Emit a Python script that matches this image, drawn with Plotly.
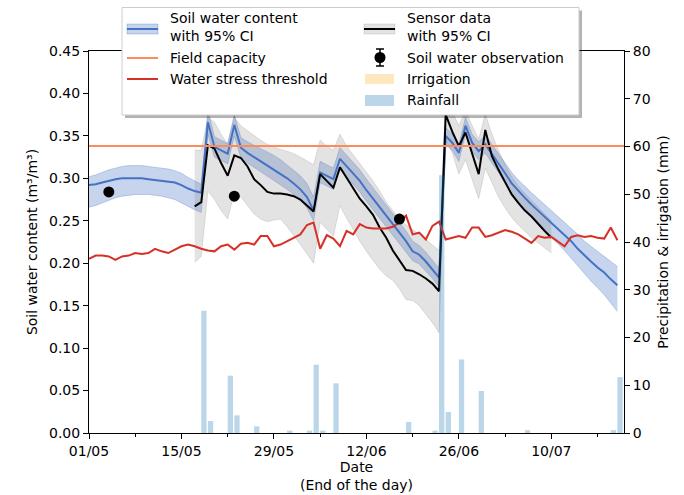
import pandas as pd
import plotly.graph_objects as go

# ---------------------------------------------------------------- data
x_start, x_end = "2021-05-01", "2021-07-21"
model_dates = pd.date_range("2021-05-01", periods=81, freq="D")
sensor_dates = pd.date_range("2021-05-17", periods=55, freq="D")

swc_mean = [0.292, 0.293, 0.295, 0.297, 0.299, 0.300, 0.300, 0.300, 0.300, 0.299,
            0.298, 0.297, 0.296, 0.295, 0.292, 0.288, 0.285, 0.283, 0.366, 0.337,
            0.333, 0.329, 0.363, 0.336, 0.330, 0.325, 0.320, 0.316, 0.311, 0.306,
            0.300, 0.294, 0.287, 0.278, 0.262, 0.307, 0.303, 0.299, 0.323, 0.314,
            0.305, 0.297, 0.286, 0.276, 0.266, 0.256, 0.246, 0.236, 0.226, 0.214,
            0.210, 0.202, 0.193, 0.183, 0.350, 0.342, 0.330, 0.362, 0.342, 0.332,
            0.340, 0.329, 0.318, 0.306, 0.294, 0.285, 0.277, 0.269, 0.262, 0.255,
            0.248, 0.241, 0.234, 0.226, 0.217, 0.209, 0.202, 0.195, 0.189, 0.181,
            0.174]
swc_low = [0.266, 0.268, 0.271, 0.274, 0.277, 0.279, 0.280, 0.281, 0.281, 0.281,
           0.280, 0.279, 0.277, 0.275, 0.271, 0.267, 0.263, 0.260, 0.352, 0.325,
           0.321, 0.317, 0.350, 0.324, 0.318, 0.313, 0.308, 0.303, 0.298, 0.293,
           0.287, 0.281, 0.274, 0.265, 0.250, 0.295, 0.291, 0.287, 0.310, 0.301,
           0.292, 0.284, 0.273, 0.263, 0.253, 0.244, 0.234, 0.224, 0.214, 0.203,
           0.199, 0.191, 0.182, 0.172, 0.340, 0.333, 0.320, 0.352, 0.332, 0.322,
           0.330, 0.318, 0.307, 0.294, 0.282, 0.272, 0.263, 0.254, 0.246, 0.238,
           0.231, 0.223, 0.215, 0.206, 0.196, 0.187, 0.179, 0.171, 0.163, 0.153,
           0.143]
swc_high = [0.302, 0.304, 0.307, 0.310, 0.312, 0.314, 0.315, 0.315, 0.315, 0.314,
            0.313, 0.312, 0.311, 0.309, 0.306, 0.301, 0.297, 0.293, 0.380, 0.349,
            0.345, 0.341, 0.375, 0.348, 0.343, 0.339, 0.335, 0.331, 0.327, 0.322,
            0.316, 0.310, 0.303, 0.294, 0.278, 0.320, 0.316, 0.312, 0.336, 0.327,
            0.318, 0.310, 0.299, 0.289, 0.279, 0.269, 0.259, 0.249, 0.238, 0.226,
            0.221, 0.213, 0.204, 0.194, 0.360, 0.352, 0.340, 0.372, 0.352, 0.343,
            0.351, 0.340, 0.330, 0.318, 0.307, 0.298, 0.290, 0.283, 0.276, 0.269,
            0.263, 0.256, 0.249, 0.242, 0.234, 0.226, 0.220, 0.214, 0.209, 0.203,
            0.196]

sensor_mean = [0.267, 0.272, 0.339, 0.335, 0.318, 0.303, 0.327, 0.324, 0.314, 0.299,
               0.292, 0.284, 0.282, 0.282, 0.281, 0.279, 0.275, 0.268, 0.261, 0.305,
               0.297, 0.289, 0.313, 0.301, 0.289, 0.276, 0.267, 0.257, 0.242, 0.230,
               0.215, 0.203, 0.192, 0.191, 0.187, 0.182, 0.176, 0.167, 0.375, 0.355,
               0.338, 0.354, 0.330, 0.305, 0.357, 0.326, 0.310, 0.295, 0.281, 0.271,
               0.262, 0.255, 0.246, 0.238, 0.230]
sensor_low = [0.201, 0.208, 0.285, 0.275, 0.262, 0.252, 0.283, 0.278, 0.268, 0.258,
              0.252, 0.249, 0.251, 0.252, 0.243, 0.233, 0.222, 0.211, 0.200, 0.248,
              0.240, 0.232, 0.268, 0.253, 0.240, 0.226, 0.214, 0.203, 0.193, 0.185,
              0.180, 0.170, 0.157, 0.156, 0.150, 0.140, 0.130, 0.118, 0.345, 0.330,
              0.305, 0.322, 0.298, 0.276, 0.312, 0.294, 0.278, 0.265, 0.254, 0.245,
              0.237, 0.230, 0.224, 0.218, 0.212]
sensor_high = [0.333, 0.333, 0.372, 0.366, 0.352, 0.340, 0.372, 0.362, 0.356, 0.350,
               0.345, 0.340, 0.337, 0.334, 0.332, 0.329, 0.325, 0.320, 0.316, 0.345,
               0.338, 0.333, 0.352, 0.338, 0.328, 0.318, 0.308, 0.297, 0.285, 0.272,
               0.262, 0.252, 0.245, 0.240, 0.234, 0.228, 0.222, 0.215, 0.392, 0.378,
               0.362, 0.380, 0.362, 0.346, 0.376, 0.352, 0.333, 0.316, 0.302, 0.291,
               0.282, 0.274, 0.266, 0.258, 0.250]

stress_threshold = [0.205, 0.209, 0.209, 0.208, 0.204, 0.208, 0.209, 0.212, 0.211, 0.212,
                    0.217, 0.214, 0.212, 0.216, 0.220, 0.222, 0.220, 0.217, 0.215, 0.214,
                    0.220, 0.222, 0.216, 0.223, 0.224, 0.222, 0.232, 0.232, 0.220, 0.222,
                    0.226, 0.230, 0.234, 0.245, 0.248, 0.217, 0.233, 0.229, 0.220, 0.238,
                    0.234, 0.246, 0.242, 0.241, 0.241, 0.241, 0.243, 0.248, 0.256, 0.234,
                    0.236, 0.228, 0.244, 0.249, 0.228, 0.230, 0.232, 0.230, 0.242, 0.242,
                    0.231, 0.233, 0.236, 0.239, 0.237, 0.234, 0.229, 0.224, 0.232, 0.230,
                    0.231, 0.226, 0.220, 0.231, 0.233, 0.231, 0.232, 0.230, 0.229, 0.242,
                    0.227]
field_capacity = 0.338

obs_dates = ["2021-05-04", "2021-05-23", "2021-06-17"]
obs_values = [0.284, 0.279, 0.252]

rain_dates = ["2021-05-18", "2021-05-19", "2021-05-22", "2021-05-23", "2021-05-26",
              "2021-05-31", "2021-06-03", "2021-06-04", "2021-06-05", "2021-06-07",
              "2021-06-18", "2021-06-22", "2021-06-23", "2021-06-24", "2021-06-26",
              "2021-06-29", "2021-07-06", "2021-07-19", "2021-07-20"]
rain_mm = [25.6, 2.5, 12.0, 3.7, 1.4, 0.5, 0.5, 14.3, 0.5, 10.4,
           2.3, 0.5, 54.0, 4.4, 15.4, 8.8, 0.6, 0.6, 11.7]
irrigation_dates = []
irrigation_mm = []

# ---------------------------------------------------------------- styles
FONT = "DejaVu Sans"
FS = 14
BLUE = "#4472c4"
BLUE_FILL = "rgba(68,114,196,0.3)"
GREY_FILL = "rgba(128,128,128,0.22)"
ORANGE = "#fc8d59"
RED = "#d73027"
RAIN = "rgba(31,119,180,0.3)"
IRRIG = "rgba(255,165,0,0.25)"
DAY_MS = 86400000

W, H = 684, 495
ML, MR, MT, MB = 89, 60, 51, 62

fig = go.Figure()


def band(x, lo, hi, fill):
    fig.add_trace(go.Scatter(x=x, y=lo, mode="lines", line=dict(color=fill, width=1),
                             hoverinfo="skip"))
    fig.add_trace(go.Scatter(x=x, y=hi, mode="lines", line=dict(color=fill, width=1),
                             fill="tonexty", fillcolor=fill, hoverinfo="skip"))


band(model_dates, swc_low, swc_high, BLUE_FILL)
band(sensor_dates, sensor_low, sensor_high, GREY_FILL)

fig.add_trace(go.Scatter(x=model_dates, y=swc_mean, mode="lines",
                         line=dict(color=BLUE, width=2), name="Soil water content"))
fig.add_trace(go.Scatter(x=sensor_dates, y=sensor_mean, mode="lines",
                         line=dict(color="black", width=2), name="Sensor data"))
fig.add_trace(go.Scatter(x=[x_start, x_end], y=[field_capacity, field_capacity], mode="lines",
                         line=dict(color=ORANGE, width=2), name="Field capacity"))
fig.add_trace(go.Scatter(x=model_dates, y=stress_threshold, mode="lines",
                         line=dict(color=RED, width=2), name="Water stress threshold"))
fig.add_trace(go.Scatter(x=obs_dates, y=obs_values, mode="markers",
                         marker=dict(color="black", size=11), name="Soil water observation"))

fig.add_trace(go.Bar(x=rain_dates, y=rain_mm, yaxis="y2", width=0.8 * DAY_MS, offset=0,
                     marker=dict(color=RAIN, line=dict(width=0)), name="Rainfall"))
fig.add_trace(go.Bar(x=irrigation_dates, y=irrigation_mm, yaxis="y2", width=0.8 * DAY_MS,
                     offset=0, marker=dict(color=IRRIG, line=dict(width=0)), name="Irrigation"))

# ---------------------------------------------------------------- legend box (drawn in pixels)
PW, PH = W - ML - MR, H - MT - MB


def px(x):
    return (x - ML) / PW


def py(y):
    return (H - MB - y) / PH


shapes = []


def rect(x0, y0, x1, y1, fill, line=None, lw=0):
    shapes.append(dict(type="rect", xref="paper", yref="paper", layer="above",
                       x0=px(x0), x1=px(x1), y0=py(y1), y1=py(y0), fillcolor=fill,
                       line=dict(color=line or fill, width=lw)))


def hline(x0, x1, y, color, lw=2):
    shapes.append(dict(type="line", xref="paper", yref="paper", layer="above",
                       x0=px(x0), x1=px(x1), y0=py(y), y1=py(y), line=dict(color=color, width=lw)))


rect(125, 10.5, 582, 118, "rgba(0,0,0,0.3)")
rect(122, 7.5, 579, 115, "white", "#cccccc", 1)

rect(127, 24, 158, 34, BLUE_FILL, BLUE_FILL, 1)
hline(127, 158, 29, BLUE)
hline(127, 158, 58, ORANGE)
hline(127, 158, 79, RED)

rect(364, 24, 395, 34, GREY_FILL, GREY_FILL, 1)
hline(364, 395, 29, "black")
# observation symbol: error bar with caps and a dot
shapes.append(dict(type="line", xref="paper", yref="paper", layer="above",
                   x0=px(380), x1=px(380), y0=py(49), y1=py(66), line=dict(color="black", width=1.5)))
hline(376, 384, 49, "black", 1.5)
hline(376, 384, 66, "black", 1.5)
shapes.append(dict(type="circle", xref="paper", yref="paper", layer="above",
                   x0=px(374.5), x1=px(385.5), y0=py(63), y1=py(52),
                   fillcolor="black", line=dict(color="black", width=0)))
rect(365, 74, 394, 84, IRRIG)
rect(365, 95, 394, 106, RAIN)

labels = [
    (169, 27, "Soil water content<br>with 95% CI"),
    (169, 58, "Field capacity"), (169, 79, "Water stress threshold"),
    (406, 27, "Sensor data<br>with 95% CI"),
    (406, 58, "Soil water observation"), (406, 79, "Irrigation"), (406, 100, "Rainfall"),
]
annotations = [dict(x=px(x), y=py(y), xref="paper", yref="paper", text=t, showarrow=False,
                    xanchor="left", yanchor="middle", align="left", borderpad=0,
                    font=dict(family=FONT, size=FS, color="black"))
               for x, y, t in labels]

axis_common = dict(showline=True, linecolor="black", linewidth=1, ticks="outside", ticklen=5,
                   tickwidth=1, tickcolor="black", showgrid=False, zeroline=False,
                   tickfont=dict(family=FONT, size=FS, color="black"))

fig.update_layout(
    width=W, height=H,
    margin=dict(l=ML, r=MR, t=MT, b=MB, autoexpand=False),
    plot_bgcolor="white", paper_bgcolor="white",
    showlegend=False, barmode="overlay",
    font=dict(family=FONT, size=FS, color="black"),
    xaxis=dict(type="date", range=[x_start, x_end], tickformat="%d/%m", tick0=x_start,
               dtick=14 * DAY_MS, mirror=True,
               minor=dict(dtick=7 * DAY_MS, tick0=x_start, ticks="outside", ticklen=3,
                          tickcolor="black", showgrid=False),
               title=dict(text="Date<br>(End of the day)", standoff=4,
                          font=dict(family=FONT, size=FS, color="black")),
               **axis_common),
    yaxis=dict(range=[0, 0.45], dtick=0.05, tickformat=".2f", mirror=True,
               title=dict(text="Soil water content (m³/m³)", standoff=8,
                          font=dict(family=FONT, size=FS, color="black")),
               **axis_common),
    yaxis2=dict(range=[0, 80], dtick=10, overlaying="y", side="right",
                title=dict(text="Precipitation &amp; irrigation (mm)", standoff=8,
                           font=dict(family=FONT, size=FS, color="black")),
                **axis_common),
    shapes=shapes,
    annotations=annotations,
)

fig.write_html("out.html")
